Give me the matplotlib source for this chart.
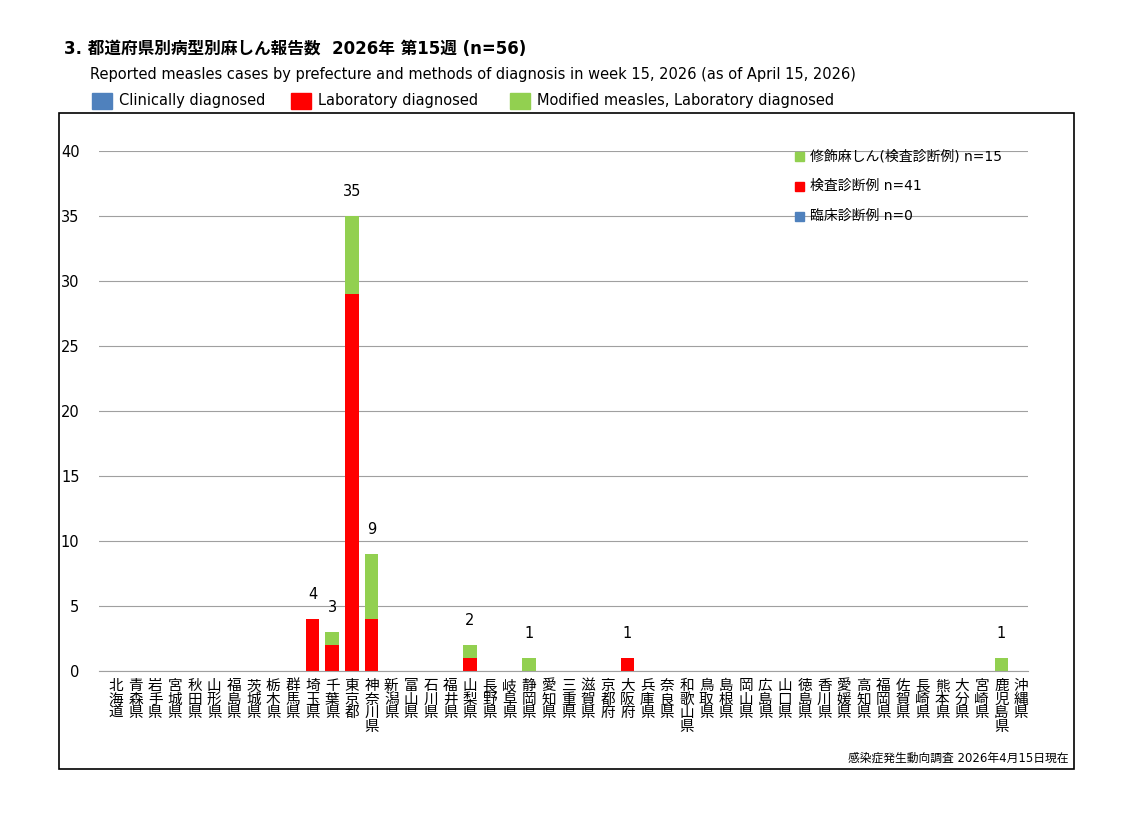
import matplotlib
matplotlib.use('Agg')
import matplotlib.pyplot as plt
from matplotlib.patches import Rectangle

plt.rcParams['font.family'] = ['DejaVu Sans', 'Noto Sans CJK JP']

prefs = ['北海道', '青森県', '岩手県', '宮城県', '秋田県', '山形県', '福島県', '茨城県', '栃木県', '群馬県',
         '埼玉県', '千葉県', '東京都', '神奈川県', '新潟県', '富山県', '石川県', '福井県', '山梨県', '長野県',
         '岐阜県', '静岡県', '愛知県', '三重県', '滋賀県', '京都府', '大阪府', '兵庫県', '奈良県', '和歌山県',
         '鳥取県', '島根県', '岡山県', '広島県', '山口県', '徳島県', '香川県', '愛媛県', '高知県', '福岡県',
         '佐賀県', '長崎県', '熊本県', '大分県', '宮崎県', '鹿児島県', '沖縄県']
clinical = [0] * 47
lab = [0] * 47
modified = [0] * 47
for name, v in {'埼玉県': 4, '千葉県': 2, '東京都': 29, '神奈川県': 4, '山梨県': 1, '大阪府': 1}.items():
    lab[prefs.index(name)] = v
for name, v in {'千葉県': 1, '東京都': 6, '神奈川県': 5, '山梨県': 1, '静岡県': 1, '鹿児島県': 1}.items():
    modified[prefs.index(name)] = v

c_blue, c_red, c_green = '#4f81bd', '#ff0000', '#92d050'

fig = plt.figure(figsize=(11.38, 8.24), dpi=100)
W, H = 1138, 824

# outer frame
fig.patches.append(Rectangle((59 / W, 1 - 769 / H), (1074 - 59) / W, (769 - 113) / H,
                             transform=fig.transFigure, fill=False, edgecolor='black', lw=1.2))

ax = fig.add_axes([99 / W, 1 - 671 / H, (1028 - 99) / W, (671 - 151) / H])
x = list(range(47))
ax.bar(x, clinical, width=0.7, color=c_blue)
ax.bar(x, lab, width=0.7, bottom=clinical, color=c_red)
bot = [a + b for a, b in zip(clinical, lab)]
ax.bar(x, modified, width=0.7, bottom=bot, color=c_green)
for i in x:
    tot = clinical[i] + lab[i] + modified[i]
    if tot > 0:
        ax.text(i, tot + 1.3, str(tot), ha='center', va='bottom', fontsize=10.5)

ax.set_ylim(0, 40)
ax.set_xlim(-0.85, 46.35)
ax.set_yticks(range(0, 41, 5))
ax.yaxis.grid(True, color='#a0a0a0', lw=0.8)
ax.set_axisbelow(True)
for s in ['top', 'right', 'left']:
    ax.spines[s].set_visible(False)
ax.spines['bottom'].set_color('#a0a0a0')
ax.tick_params(axis='y', length=0, labelsize=10.5, pad=14)
ax.set_xticks(x)
ax.set_xticklabels(['\n'.join(p) for p in prefs], fontsize=10.5, linespacing=0.95,
                   family=['Noto Sans CJK JP', 'DejaVu Sans'])
ax.tick_params(axis='x', length=0, pad=6)

# inner legend
for k, (lbl, col) in enumerate([('修飾麻しん(検査診断例) n=15', c_green),
                                 ('検査診断例 n=41', c_red),
                                 ('臨床診断例 n=0', c_blue)]):
    yy = 1 - (153 + k * 30) / H
    fig.patches.append(Rectangle((795 / W, yy - 8 / H), 9 / W, 9 / H,
                                 transform=fig.transFigure, color=col))
    fig.text(810 / W, yy - 3 / H, lbl, fontsize=10, va='center')

# titles
fig.text(64 / W, 1 - 49 / H, '3. 都道府県別病型別麻しん報告数  2026年 第15週 (n=56)',
         fontsize=12, fontweight='bold', va='center')
fig.text(90 / W, 1 - 75 / H,
         'Reported measles cases by prefecture and methods of diagnosis in week 15, 2026 (as of April 15, 2026)',
         fontsize=10.5, va='center')
for lx, lbl, col in [(92, 'Clinically diagnosed', c_blue), (291, 'Laboratory diagnosed', c_red),
                     (510, 'Modified measles, Laboratory diagnosed', c_green)]:
    fig.patches.append(Rectangle((lx / W, 1 - 109 / H), 20 / W, 16 / H,
                                 transform=fig.transFigure, color=col))
    fig.text((lx + 27) / W, 1 - 101 / H, lbl, fontsize=10.5, va='center')

fig.text(1069 / W, 1 - 758 / H, '感染症発生動向調査 2026年4月15日現在', fontsize=8.5,
         ha='right', va='center')

fig.savefig('out.png', dpi=100)
